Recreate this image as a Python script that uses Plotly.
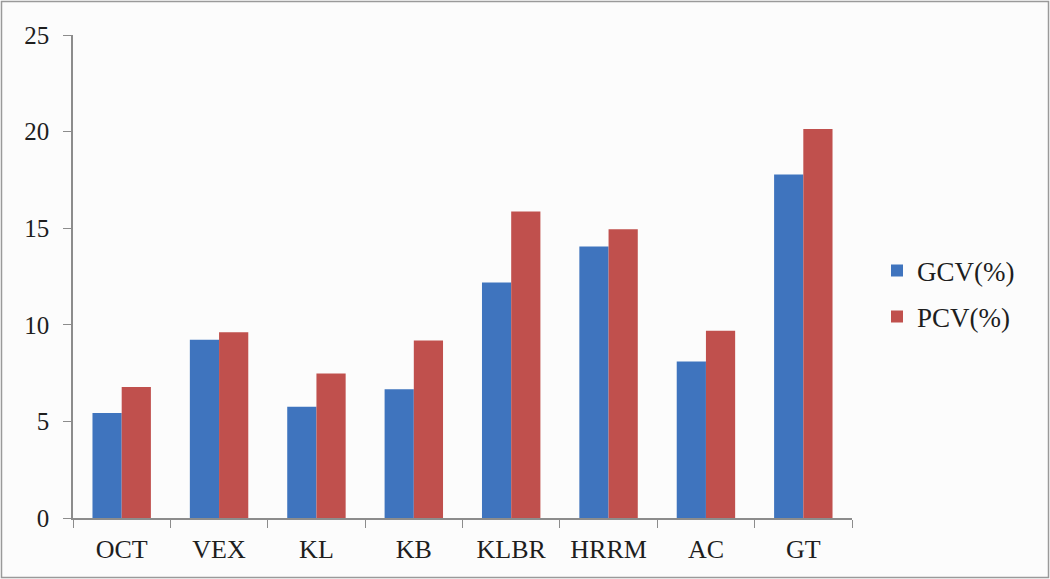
import plotly.graph_objects as go

categories = ["OCT", "VEX", "KL", "KB", "KLBR", "HRRM", "AC", "GT"]
gcv = [5.43, 9.22, 5.76, 6.67, 12.19, 14.05, 8.10, 17.78]
pcv = [6.78, 9.62, 7.48, 9.19, 15.86, 14.95, 9.69, 20.14]
y_ticks = [0, 5, 10, 15, 20, 25]

W, H = 1050, 579
L, R, T, B = 73, 198, 35, 61

fig = go.Figure()
fig.add_trace(go.Bar(x=categories, y=gcv, name="GCV(%)", marker_color="#3F74BE",
                     legendgroup="g", marker_line_width=0))
fig.add_trace(go.Bar(x=categories, y=pcv, name="PCV(%)", marker_color="#C0504D",
                     legendgroup="p", marker_line_width=0))

pw = W - L - R
ph = H - T - B
# outer frame around the whole chart
fig.add_shape(type="rect", xref="paper", yref="paper",
              x0=-(L - 1.5) / pw, x1=1 + (R - 1.5) / pw,
              y0=-(B - 1.5) / ph, y1=1 + (T - 1.5) / ph,
              line=dict(color="#9a9a9a", width=1.5), fillcolor="rgba(0,0,0,0)",
              layer="below")

fig.update_layout(
    width=W, height=H,
    margin=dict(l=L, r=R, t=T, b=B, pad=0),
    paper_bgcolor="#fcfcfc", plot_bgcolor="#fcfcfc",
    barmode="group", bargap=0.40, bargroupgap=0,
    font=dict(family="Liberation Serif", size=25, color="#1e1e1e"),
    showlegend=True,
    legend=dict(x=1 + 25 / pw, y=0.464, xanchor="left", yanchor="middle",
                font=dict(size=27), traceorder="grouped", tracegroupgap=8,
                bgcolor="rgba(0,0,0,0)", itemwidth=30),
)
fig.update_xaxes(
    showline=True, linecolor="#8c8c8c", linewidth=1.5,
    ticks="outside", ticklen=8, tickcolor="#8c8c8c", tickson="boundaries",
    showgrid=False, zeroline=False, tickfont=dict(size=26), ticklabelstandoff=7,
)
fig.update_yaxes(
    range=[0, 25], tickvals=y_ticks,
    showline=True, linecolor="#8c8c8c", linewidth=1.5,
    ticks="outside", ticklen=8, tickcolor="#8c8c8c",
    showgrid=False, zeroline=False, ticklabelstandoff=9,
)

fig.write_html("out.html")
